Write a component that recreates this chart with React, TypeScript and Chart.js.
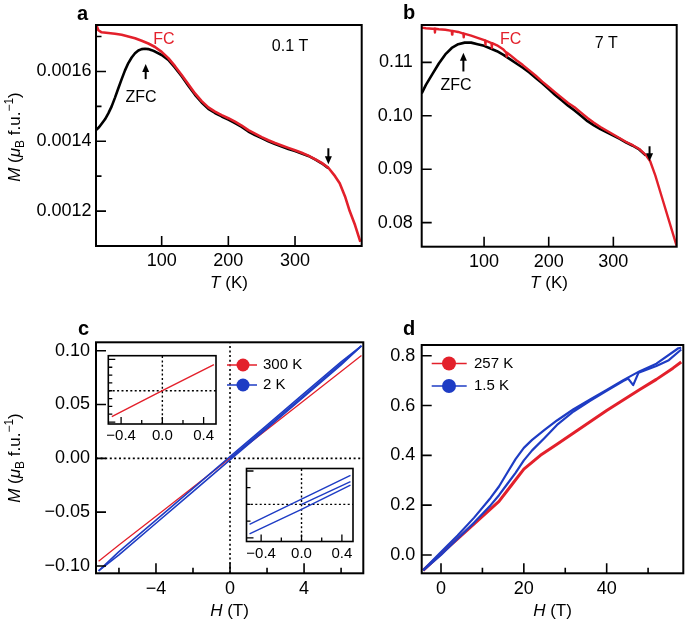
import React, { useEffect, useRef } from 'react';
import { Chart, registerables } from 'chart.js';
Chart.register(...registerables);

const FONT = '"Liberation Sans", Arial, Helvetica, sans-serif';
const RED = '#e3202b';
const BLUE = '#1e3cc4';
const BLACK = '#000000';
const PAGE_W = 685;
const PAGE_H = 621;

// ---------------- Panel a : M(T), 0.1 T ----------------
const aT_FC = [2, 5, 10, 20, 30, 40, 50, 60, 70, 80, 90, 100, 110, 120, 130, 140, 150, 160, 170, 180, 190, 200, 210, 220, 230, 240, 250, 260, 270, 280, 290, 300, 310, 320, 330, 340, 350, 360, 367, 375, 382, 390, 398];
const aM_FC = [0.001733, 0.001718, 0.001712, 0.00171, 0.001708, 0.001705, 0.0017, 0.001695, 0.001688, 0.00168, 0.00167, 0.001656, 0.001638, 0.001615, 0.00159, 0.001563, 0.001537, 0.001515, 0.001497, 0.001485, 0.001475, 0.001466, 0.001456, 0.001445, 0.001432, 0.001422, 0.001412, 0.001403, 0.001395, 0.001388, 0.001381, 0.001374, 0.001367, 0.001359, 0.001349, 0.001338, 0.001324, 0.0013, 0.00128, 0.001242, 0.0012, 0.00116, 0.001112];
const aT_ZFC = [2, 6, 10, 15, 20, 25, 30, 35, 40, 45, 50, 55, 60, 65, 70, 75, 80, 85, 90, 100, 110, 120, 130, 140, 150, 160, 170, 180, 190, 200, 210, 220, 230, 240, 250, 260, 270, 280, 290, 300, 310, 320, 330, 340, 350];
const aM_ZFC = [0.001433, 0.00144, 0.00145, 0.001463, 0.00148, 0.0015, 0.001525, 0.001552, 0.001578, 0.001603, 0.001624, 0.00164, 0.001652, 0.00166, 0.001664, 0.001665, 0.001664, 0.001661, 0.001657, 0.001647, 0.001633, 0.001611, 0.001586, 0.001559, 0.001533, 0.001511, 0.001493, 0.001481, 0.001471, 0.001462, 0.001452, 0.001441, 0.001428, 0.001418, 0.001409, 0.0014, 0.001392, 0.001385, 0.001378, 0.001372, 0.001365, 0.001358, 0.001348, 0.001337, 0.001323];
const aXTicks = [100, 200, 300];
const aYTicks = [0.0012, 0.0013, 0.0014, 0.0015, 0.0016, 0.0017];
const aYMajor = [0.0012, 0.0014, 0.0016];

// ---------------- Panel b : M(T), 7 T ----------------
const bT_FC = [3.5, 10, 20, 23.5, 24, 24.5, 30, 40, 50, 50.5, 51, 60, 68, 68.5, 69, 80, 90, 101.5, 102, 102.5, 111.5, 112, 112.5, 120, 130, 134.5, 135, 135.5, 140, 150, 160, 170, 180, 190, 200, 210, 220, 230, 240, 250, 260, 270, 280, 290, 300, 310, 320, 330, 340, 350, 357, 365, 375, 385, 398];
const bM_FC = [0.1165, 0.1164, 0.1163, 0.1163, 0.1156, 0.1163, 0.1162, 0.1161, 0.1159, 0.1152, 0.1159, 0.1157, 0.1154, 0.1147, 0.1154, 0.115, 0.1146, 0.1141, 0.1133, 0.1141, 0.1136, 0.1127, 0.1136, 0.1132, 0.1124, 0.1118, 0.1111, 0.1118, 0.1114, 0.1104, 0.1095, 0.1085, 0.1075, 0.1064, 0.1054, 0.1044, 0.1034, 0.1024, 0.1016, 0.1006, 0.0996, 0.0987, 0.0979, 0.0972, 0.0965, 0.0958, 0.0951, 0.0945, 0.0938, 0.0927, 0.0915, 0.0888, 0.0848, 0.0808, 0.0756];
const bT_ZFC = [3.5, 10, 20, 30, 40, 50, 60, 70, 80, 90, 100, 110, 120, 130, 140, 150, 160, 170, 180, 190, 200, 210, 220, 230, 240, 250, 260, 270, 280, 290, 300, 310, 320, 330, 340, 350];
const bM_ZFC = [0.1042, 0.1058, 0.1078, 0.1098, 0.1115, 0.1127, 0.1134, 0.1137, 0.1137, 0.1134, 0.1131, 0.1126, 0.1121, 0.1114, 0.1106, 0.1098, 0.109, 0.1081, 0.1071, 0.1061, 0.105, 0.1039, 0.1029, 0.1019, 0.101, 0.1, 0.099, 0.0982, 0.0975, 0.0969, 0.0963, 0.0957, 0.095, 0.0944, 0.0937, 0.0926];
const bXTicks = [100, 200, 300];
const bYTicks = [0.08, 0.09, 0.1, 0.11];

// ---------------- Panel c : M(H) ----------------
const cH = [-7.1, -6, -4, -2, 0, 2, 4, 6, 7.1];
const cM_300K = [-0.0955, -0.0806, -0.0537, -0.0268, 0, 0.0268, 0.0537, 0.0806, 0.0955];
const cM_2K_up = [-0.1045, -0.0897, -0.0603, -0.0309, -0.0015, 0.0279, 0.0573, 0.0867, 0.1045];
const cM_2K_down = [-0.1045, -0.0867, -0.0573, -0.0279, 0.0015, 0.0309, 0.0603, 0.0897, 0.1045];
const cH_virgin = [0, 2, 4, 6, 7.1];
const cM_2K_virgin = [0, 0.0292, 0.0586, 0.088, 0.1045];
const cXTicks = [-6, -4, -2, 0, 2, 4, 6];
const cXMajor = [-4, 0, 4];
const cYTicks = [-0.1, -0.05, 0, 0.05, 0.1];
const cLegend = ['300 K', '2 K'];

// inset 1 (300 K, low field)
const i1H = [-0.49, -0.25, 0, 0.25, 0.5];
const i1M = [-0.0066, -0.00335, 0, 0.00335, 0.0067];
// inset 2 (2 K, low field)
const i2H = [-0.515, 0, 0.485];
const i2M_up = [-0.0088, -0.0015, 0.0058];
const i2M_down = [-0.006, 0.0016, 0.0087];
const i2H_virgin = [0, 0.485];
const i2M_virgin = [0, 0.0068];
const iXTicks = [-0.4, -0.2, 0, 0.2, 0.4];
const iXMajor = [-0.4, 0, 0.4];
const i1YTicks = [-0.008, -0.006, -0.004, -0.002, 0, 0.002, 0.004, 0.006, 0.008];
const i1YMajor = [-0.008, 0.008];
const i2YTicks = [-0.01, -0.005, 0, 0.005, 0.01];
const i2YMajor = [-0.01, 0.01];

// ---------------- Panel d : high-field M(H) ----------------
const dH_257K = [-4.3, 0, 4, 8, 11, 14, 17, 20, 24, 28, 32, 36, 40, 44, 48, 52, 56, 58];
const dM_257K = [-0.062, 0.005, 0.065, 0.125, 0.17, 0.215, 0.28, 0.345, 0.4, 0.445, 0.49, 0.535, 0.58, 0.622, 0.664, 0.705, 0.75, 0.775];
const dH_15K_up = [-4.3, 0, 4, 8, 12, 14, 16, 18, 20, 22, 25, 28, 32, 36, 40, 44, 45.2, 46.4, 47.7, 52, 55, 57.3, 58];
const dM_15K_up = [-0.062, 0.0, 0.065, 0.13, 0.2, 0.24, 0.285, 0.33, 0.38, 0.42, 0.47, 0.522, 0.576, 0.619, 0.659, 0.698, 0.708, 0.682, 0.732, 0.759, 0.782, 0.815, 0.825];
const dH_15K_down = [58, 57.3, 52, 48, 44, 40, 36, 32, 28, 25, 22, 20, 18, 16, 14, 12, 8, 4, 0, -4.3];
const dM_15K_down = [0.832, 0.83, 0.768, 0.738, 0.702, 0.663, 0.624, 0.585, 0.54, 0.502, 0.462, 0.43, 0.385, 0.33, 0.275, 0.23, 0.15, 0.078, 0.012, -0.06];
const dXTicks = [0, 10, 20, 30, 40, 50];
const dXMajor = [0, 20, 40];
const dYTicks = [0, 0.2, 0.4, 0.6, 0.8];
const dLegend = ['257 K', '1.5 K'];

// ---------------- helpers ----------------
type Seg = { t: string; it?: boolean; sub?: boolean; sup?: boolean };
const mTitle: Seg[] = [{ t: 'M', it: true }, { t: ' (' }, { t: 'μ', it: true }, { t: 'B', sub: true }, { t: ' f.u.' }, { t: '−1', sup: true }, { t: ')' }];
const tTitle: Seg[] = [{ t: 'T', it: true }, { t: ' (K)' }];
const hTitle: Seg[] = [{ t: 'H', it: true }, { t: ' (T)' }];

const minus = (s: string) => s.replace('-', '\u2212');
const pts = (xs: number[], ys: number[]) => xs.map((x, i) => ({ x, y: ys[i] }));

function drawRich(ctx: CanvasRenderingContext2D, segs: Seg[], cx: number, cy: number, size: number, rot: boolean) {
  ctx.save();
  ctx.translate(cx, cy);
  if (rot) ctx.rotate(-Math.PI / 2);
  const fontFor = (s: Seg) => `${s.it ? 'italic ' : ''}${s.sub || s.sup ? Math.round(size * 0.7) : size}px ${FONT}`;
  let total = 0;
  for (const s of segs) { ctx.font = fontFor(s); total += ctx.measureText(s.t).width; }
  let x = -total / 2;
  ctx.textBaseline = 'middle';
  ctx.textAlign = 'left';
  ctx.fillStyle = BLACK;
  for (const s of segs) {
    ctx.font = fontFor(s);
    const dy = s.sub ? size * 0.32 : s.sup ? -size * 0.32 : 0;
    ctx.fillText(s.t, x, dy);
    x += ctx.measureText(s.t).width;
  }
  ctx.restore();
}

interface AxisSpec { min: number; max: number; ticks: number[]; major: number[]; fmt: (v: number) => string }
interface PanelSpec {
  area: { l: number; t: number; r: number; b: number };
  x: AxisSpec; y: AxisSpec;
  datasets: any[];
  tickFont: number; xPad: number; yPad: number;
  majLen: number; minLen: number; frameW: number; tickW: number;
  yW: number;
  fillBg?: boolean;
  texts?: { x: number; y: number; t: string; color: string; size: number }[];
  arrows?: { x: number; y0: number; y1: number }[];
  legend?: { labels: string[]; colors: string[]; x0: number; x1: number; mx: number; tx: number; ys: number[]; r: number; size: number };
  xTitle?: { cx: number; cy: number; segs: Seg[] };
  yTitle?: { cx: number; cy: number; segs: Seg[] };
  label?: { x: number; y: number; t: string };
}

const isIn = (arr: number[], v: number) => arr.some(m => Math.abs(m - v) < 1e-9);

function createPanel(canvas: HTMLCanvasElement, p: PanelSpec) {
  const yW = p.yW, xH = 30;
  const axis = (ax: AxisSpec, isX: boolean) => ({
    type: 'linear',
    min: ax.min,
    max: ax.max,
    afterBuildTicks: (s: any) => { s.ticks = ax.ticks.map(v => ({ value: v })); },
    afterFit: (s: any) => { if (isX) s.height = xH; else s.width = yW; },
    grid: { display: false, drawTicks: false },
    border: { display: false },
    title: { display: false },
    ticks: {
      autoSkip: false, maxRotation: 0, minRotation: 0,
      padding: isX ? p.xPad : p.yPad,
      color: BLACK,
      font: { family: FONT, size: p.tickFont },
      callback: (v: number) => (isIn(ax.major, v) ? ax.fmt(v) : ''),
    },
  });
  const deco = {
    id: 'deco',
    beforeDatasetsDraw(chart: any) {
      if (!p.fillBg) return;
      const a = chart.chartArea; const ctx = chart.ctx;
      ctx.save(); ctx.fillStyle = '#ffffff';
      ctx.fillRect(a.left, a.top, a.right - a.left, a.bottom - a.top);
      ctx.restore();
    },
    afterDraw(chart: any) {
      const ctx: CanvasRenderingContext2D = chart.ctx;
      const a = chart.chartArea;
      const xs = chart.scales.x, ys = chart.scales.y;
      ctx.save();
      ctx.strokeStyle = BLACK;
      ctx.lineWidth = p.tickW;
      ctx.beginPath();
      for (const t of xs.ticks) {
        const px = xs.getPixelForValue(t.value);
        const L = isIn(p.x.major, t.value) ? p.majLen : p.minLen;
        ctx.moveTo(px, a.bottom); ctx.lineTo(px, a.bottom - L);
      }
      for (const t of ys.ticks) {
        const py = ys.getPixelForValue(t.value);
        const L = isIn(p.y.major, t.value) ? p.majLen : p.minLen;
        ctx.moveTo(a.left, py); ctx.lineTo(a.left + L, py);
      }
      ctx.stroke();
      ctx.lineWidth = p.frameW;
      ctx.strokeRect(a.left, a.top, a.right - a.left, a.bottom - a.top);
      if (p.texts) {
        for (const tx of p.texts) {
          ctx.font = `${tx.size}px ${FONT}`;
          ctx.fillStyle = tx.color;
          ctx.textAlign = 'center';
          ctx.textBaseline = 'middle';
          ctx.fillText(tx.t, xs.getPixelForValue(tx.x), ys.getPixelForValue(tx.y));
        }
      }
      if (p.arrows) {
        for (const ar of p.arrows) {
          const px = xs.getPixelForValue(ar.x);
          const y0 = ys.getPixelForValue(ar.y0), y1 = ys.getPixelForValue(ar.y1);
          const dir = y1 > y0 ? 1 : -1;
          ctx.strokeStyle = BLACK; ctx.fillStyle = BLACK; ctx.lineWidth = 2;
          ctx.beginPath(); ctx.moveTo(px, y0); ctx.lineTo(px, y1 - dir * 5); ctx.stroke();
          ctx.beginPath(); ctx.moveTo(px, y1); ctx.lineTo(px - 3.5, y1 - dir * 8); ctx.lineTo(px + 3.5, y1 - dir * 8); ctx.closePath(); ctx.fill();
        }
      }
      if (p.legend) {
        const lg = p.legend;
        lg.labels.forEach((lab, i) => {
          const y = lg.ys[i];
          ctx.strokeStyle = lg.colors[i]; ctx.fillStyle = lg.colors[i]; ctx.lineWidth = 1.5;
          ctx.beginPath(); ctx.moveTo(lg.x0, y); ctx.lineTo(lg.x1, y); ctx.stroke();
          ctx.beginPath(); ctx.arc(lg.mx, y, lg.r, 0, Math.PI * 2); ctx.fill();
          ctx.fillStyle = BLACK; ctx.font = `${lg.size}px ${FONT}`;
          ctx.textAlign = 'left'; ctx.textBaseline = 'middle';
          ctx.fillText(lab, lg.tx, y);
        });
      }
      if (p.xTitle) drawRich(ctx, p.xTitle.segs, p.xTitle.cx, p.xTitle.cy, 17, false);
      if (p.yTitle) drawRich(ctx, p.yTitle.segs, p.yTitle.cx, p.yTitle.cy, 17, true);
      if (p.label) {
        ctx.fillStyle = BLACK; ctx.font = `bold 20px ${FONT}`;
        ctx.textAlign = 'left'; ctx.textBaseline = 'alphabetic';
        ctx.fillText(p.label.t, p.label.x, p.label.y);
      }
      ctx.restore();
    },
  };
  return new Chart(canvas, {
    type: 'line',
    data: { datasets: p.datasets },
    options: {
      responsive: false,
      animation: false,
      devicePixelRatio: 1,
      events: [],
      layout: { padding: { left: p.area.l - yW, top: p.area.t, right: PAGE_W - p.area.r, bottom: PAGE_H - p.area.b - xH } },
      plugins: { legend: { display: false }, tooltip: { enabled: false }, title: { display: false } },
      elements: { point: { radius: 0 }, line: { tension: 0 } },
      scales: { x: axis(p.x, true) as any, y: axis(p.y, false) as any },
    },
    plugins: [deco],
  } as any);
}

const line = (data: any[], color: string, width: number, order: number, dash?: number[]) => ({
  data, borderColor: color, borderWidth: width, pointRadius: 0, fill: false, order,
  borderDash: dash || [], borderCapStyle: 'butt', borderJoinStyle: 'round',
});

const zeroV = (ymin: number, ymax: number) => [{ x: 0, y: ymin }, { x: 0, y: ymax }];
const zeroH = (xmin: number, xmax: number) => [{ x: xmin, y: 0 }, { x: xmax, y: 0 }];

function buildSpecs(): PanelSpec[] {
  const cX = { min: -7.24, max: 7.2 }, cY = { min: -0.1068, max: 0.1078 };
  const i1X = { min: -0.524, max: 0.52 }, i1Y = { min: -0.0085, max: 0.00895 };
  const i2X = { min: -0.545, max: 0.51 }, i2Y = { min: -0.0111, max: 0.01075 };
  const base = { tickFont: 18, majLen: 10, minLen: 5.5, frameW: 2, tickW: 1.6, yW: 90 };
  const a: PanelSpec = {
    ...base,
    area: { l: 96, t: 25, r: 361.7, b: 246 },
    x: { min: 1.5, max: 400, ticks: aXTicks, major: aXTicks, fmt: v => String(v) },
    y: { min: 0.0011, max: 0.001733, ticks: aYTicks, major: aYMajor, fmt: v => v.toFixed(4) },
    xPad: 4.5, yPad: 4.5,
    datasets: [line(pts(aT_FC, aM_FC), RED, 2.6, 0), line(pts(aT_ZFC, aM_ZFC), BLACK, 2.6, 1)],
    texts: [
      { x: 103.5, y: 0.00169, t: 'FC', color: RED, size: 16 },
      { x: 69, y: 0.001524, t: 'ZFC', color: BLACK, size: 16 },
      { x: 292.6, y: 0.001671, t: '0.1 T', color: BLACK, size: 16 },
    ],
    arrows: [{ x: 76, y0: 0.001578, y1: 0.001621 }, { x: 350, y0: 0.00138, y1: 0.001334 }],
    xTitle: { cx: 229, cy: 283, segs: tTitle },
    yTitle: { cx: 15, cy: 137, segs: mTitle },
    label: { x: 77, y: 20, t: 'a' },
  };
  const b: PanelSpec = {
    ...base,
    area: { l: 421.7, t: 25, r: 676.7, b: 246.7 },
    x: { min: 3.5, max: 398, ticks: bXTicks, major: bXTicks, fmt: v => String(v) },
    y: { min: 0.0755, max: 0.117, ticks: bYTicks, major: bYTicks, fmt: v => v.toFixed(2) },
    xPad: 4.5, yPad: 9,
    datasets: [line(pts(bT_FC, bM_FC), RED, 2.4, 0), line(pts(bT_ZFC, bM_ZFC), BLACK, 2.6, 1)],
    texts: [
      { x: 141, y: 0.11436, t: 'FC', color: RED, size: 16 },
      { x: 56.7, y: 0.10575, t: 'ZFC', color: BLACK, size: 16 },
      { x: 289, y: 0.11361, t: '7 T', color: BLACK, size: 16 },
    ],
    arrows: [{ x: 68, y0: 0.10830, y1: 0.11180 }, { x: 356, y0: 0.09430, y1: 0.0915 }],
    xTitle: { cx: 549, cy: 283, segs: tTitle },
    label: { x: 403, y: 19, t: 'b' },
  };
  const c: PanelSpec = {
    ...base,
    area: { l: 96, t: 342.3, r: 363.3, b: 573.3 },
    x: { ...cX, ticks: cXTicks, major: cXMajor, fmt: v => minus(String(v)) },
    y: { ...cY, ticks: cYTicks, major: cYTicks, fmt: v => minus(v.toFixed(2)) },
    xPad: 4.5, yPad: 6,
    datasets: [
      line(zeroV(cY.min, cY.max), BLACK, 1.6, 5, [2, 2.6]),
      line(zeroH(cX.min, cX.max), BLACK, 1.6, 5, [2, 2.6]),
      line(pts(cH, cM_300K), RED, 1.3, 2),
      line(pts(cH, cM_2K_up), BLUE, 1.6, 1),
      line(pts(cH, cM_2K_down), BLUE, 1.6, 1),
      line(pts(cH_virgin, cM_2K_virgin), BLUE, 1.6, 1),
    ],
    legend: { labels: cLegend, colors: [RED, BLUE], x0: 227, x1: 257, mx: 243, tx: 263, ys: [365, 385], r: 6.5, size: 15 },
    xTitle: { cx: 229.5, cy: 611, segs: hTitle },
    yTitle: { cx: 15, cy: 458, segs: mTitle },
    label: { x: 78, y: 335, t: 'c' },
  };
  const insetBase = { tickFont: 15, majLen: 7, minLen: 4, frameW: 1.6, tickW: 1.3, fillBg: true, xPad: 3, yPad: 4, yW: 40 };
  const i1: PanelSpec = {
    ...insetBase,
    area: { l: 108.3, t: 355.7, r: 216, b: 424 },
    x: { ...i1X, ticks: iXTicks, major: iXMajor, fmt: v => minus(v.toFixed(1)) },
    y: { ...i1Y, ticks: i1YTicks, major: i1YMajor, fmt: () => '' },
    datasets: [
      line(zeroV(i1Y.min, i1Y.max), BLACK, 1.4, 5, [2, 2.4]),
      line(zeroH(i1X.min, i1X.max), BLACK, 1.4, 5, [2, 2.4]),
      line(pts(i1H, i1M), RED, 1.4, 1),
    ],
  };
  const i2: PanelSpec = {
    ...insetBase,
    area: { l: 246.5, t: 468.5, r: 353, b: 541.5 },
    x: { ...i2X, ticks: iXTicks, major: iXMajor, fmt: v => minus(v.toFixed(1)) },
    y: { ...i2Y, ticks: i2YTicks, major: i2YMajor, fmt: () => '' },
    datasets: [
      line(zeroV(i2Y.min, i2Y.max), BLACK, 1.4, 5, [2, 2.4]),
      line(zeroH(i2X.min, i2X.max), BLACK, 1.4, 5, [2, 2.4]),
      line(pts(i2H, i2M_up), BLUE, 1.4, 1),
      line(pts(i2H, i2M_down), BLUE, 1.4, 1),
      line(pts(i2H_virgin, i2M_virgin), BLUE, 1.4, 1),
    ],
  };
  const d: PanelSpec = {
    ...base,
    area: { l: 421.7, t: 345, r: 683.3, b: 573.3 },
    x: { min: -4.66, max: 58.5, ticks: dXTicks, major: dXMajor, fmt: v => String(v) },
    y: { min: -0.0735, max: 0.843, ticks: dYTicks, major: dYTicks, fmt: v => v.toFixed(1) },
    xPad: 4.5, yPad: 6.5,
    datasets: [
      line(pts(dH_257K, dM_257K), RED, 3, 2),
      line(pts(dH_15K_up, dM_15K_up), BLUE, 2.2, 1),
      line(pts(dH_15K_down, dM_15K_down), BLUE, 2.2, 1),
    ],
    legend: { labels: dLegend, colors: [RED, BLUE], x0: 431.7, x1: 466.7, mx: 449, tx: 474, ys: [363.5, 386], r: 7, size: 15 },
    xTitle: { cx: 552.5, cy: 611, segs: hTitle },
    label: { x: 403, y: 335, t: 'd' },
  };
  return [a, b, c, i1, i2, d];
}

export default function App() {
  const refs = useRef<(HTMLCanvasElement | null)[]>([]);
  useEffect(() => {
    const specs = buildSpecs();
    const charts = specs.map((s, i) => createPanel(refs.current[i] as HTMLCanvasElement, s));
    return () => { charts.forEach(c => c.destroy()); };
  }, []);
  return (
    <div style={{ position: 'absolute', left: 0, top: 0, width: PAGE_W, height: PAGE_H, overflow: 'hidden', background: '#fff' }}>
      {[0, 1, 2, 3, 4, 5].map(i => (
        <canvas
          key={i}
          ref={el => { refs.current[i] = el; }}
          width={PAGE_W}
          height={PAGE_H}
          style={{ position: 'absolute', left: 0, top: 0, width: PAGE_W, height: PAGE_H }}
        />
      ))}
    </div>
  );
}
